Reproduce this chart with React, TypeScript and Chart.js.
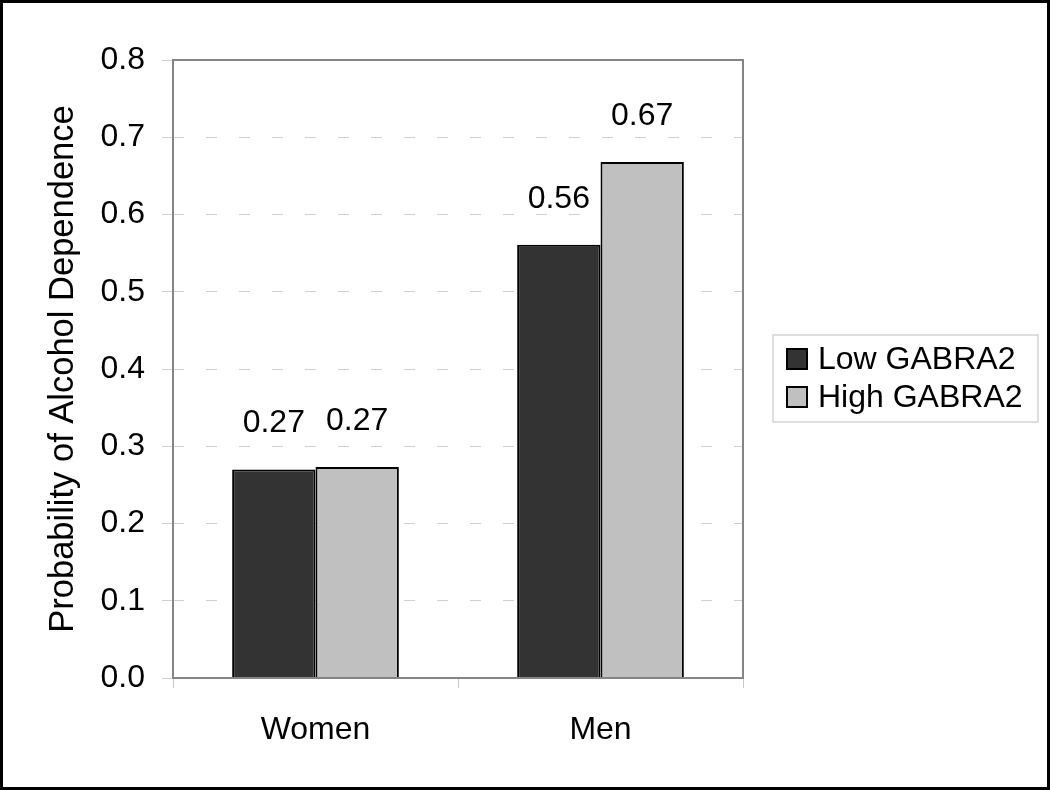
import React, { useEffect, useRef } from "react";
import { Chart, registerables } from "chart.js";

Chart.register(...registerables);

const categories = ["Women", "Men"];
const lowGabra2 = [0.27, 0.561];
const highGabra2 = [0.273, 0.668];
const lowLabels = ["0.27", "0.56"];
const highLabels = ["0.27", "0.67"];
const seriesNames = ["Low GABRA2", "High GABRA2"];
const yTicks = [0, 0.1, 0.2, 0.3, 0.4, 0.5, 0.6, 0.7, 0.8];
const yTitle = "Probability of Alcohol Dependence";

const FONT = "'Liberation Sans', Arial, sans-serif";

const framePlugin = {
  id: "frame",
  beforeDraw(chart: any) {
    const { ctx, width, height } = chart;
    ctx.save();
    ctx.fillStyle = "#ffffff";
    ctx.fillRect(0, 0, width, height);
    ctx.restore();
  },
  afterDatasetsDraw(chart: any) {
    const { ctx, chartArea } = chart;
    ctx.save();
    ctx.strokeStyle = "#858585";
    ctx.lineWidth = 2;
    ctx.strokeRect(chartArea.left, chartArea.top, chartArea.right - chartArea.left, chartArea.bottom - chartArea.top);
    ctx.fillStyle = "#000000";
    ctx.font = `32px ${FONT}`;
    ctx.textAlign = "center";
    ctx.textBaseline = "alphabetic";
    const labelSets = [lowLabels, highLabels];
    chart.data.datasets.forEach((ds: any, di: number) => {
      const meta = chart.getDatasetMeta(di);
      meta.data.forEach((bar: any, i: number) => {
        ctx.fillText(labelSets[di][i], bar.x, bar.y - 37);
      });
    });
    ctx.restore();
  },
  afterDraw(chart: any) {
    const { ctx, width, height } = chart;
    ctx.save();
    const bx = 773, by = 335, bw = 265, bh = 87;
    ctx.strokeStyle = "#d4d4d4";
    ctx.lineWidth = 1.5;
    ctx.strokeRect(bx, by, bw, bh);
    ctx.font = `32px ${FONT}`;
    ctx.textBaseline = "middle";
    ctx.textAlign = "left";
    const rows = [359, 397];
    chart.data.datasets.forEach((ds: any, i: number) => {
      const cy = rows[i];
      ctx.fillStyle = ds.backgroundColor;
      ctx.fillRect(787, cy - 10, 20, 20);
      ctx.strokeStyle = "#000000";
      ctx.lineWidth = 2;
      ctx.strokeRect(787, cy - 10, 20, 20);
      ctx.fillStyle = "#000000";
      ctx.fillText(ds.label, 818, cy + 1);
    });
    ctx.strokeStyle = "#000000";
    ctx.lineWidth = 3;
    ctx.strokeRect(1.5, 1.5, width - 3, height - 3);
    ctx.restore();
  },
};

export default function App() {
  const ref = useRef<HTMLCanvasElement>(null);
  useEffect(() => {
    document.body.style.margin = "0";
    const chart = new Chart(ref.current!, {
      type: "bar",
      data: {
        labels: categories,
        datasets: [
          {
            label: seriesNames[0],
            data: lowGabra2,
            backgroundColor: "#333333",
            borderColor: "#000000",
            borderWidth: 2,
            categoryPercentage: 0.585,
            barPercentage: 1,
          },
          {
            label: seriesNames[1],
            data: highGabra2,
            backgroundColor: "#c0c0c0",
            borderColor: "#000000",
            borderWidth: 2,
            categoryPercentage: 0.585,
            barPercentage: 1,
          },
        ],
      },
      options: {
        responsive: false,
        animation: false,
        layout: { padding: { top: 60, right: 307, bottom: 0, left: 0 } },
        plugins: {
          legend: { display: false },
          tooltip: { enabled: false },
        },
        scales: {
          x: {
            grid: {
              offset: true,
              drawOnChartArea: false,
              color: "#c8c8c8",
              tickLength: 10,
            },
            border: { display: false },
            ticks: {
              color: "#000000",
              font: { family: FONT, size: 32 },
              padding: 23,
            },
            afterFit(scale: any) {
              scale.height = 112;
            },
          },
          y: {
            min: 0,
            max: 0.8,
            afterBuildTicks(scale: any) {
              scale.ticks = yTicks.map((v) => ({ value: v }));
            },
            grid: {
              color: "#d0d0d0",
              tickLength: 11,
              tickColor: "#d0d0d0",
            },
            border: { display: false, dash: [11, 22] },
            ticks: {
              color: "#000000",
              font: { family: FONT, size: 32 },
              padding: 17,
              callback: (v: any) => Number(v).toFixed(1),
            },
            title: {
              display: true,
              text: yTitle,
              color: "#000000",
              font: { family: FONT, size: 34.5 },
              padding: { top: 43, bottom: 0 },
            },
            afterFit(scale: any) {
              scale.width = 173;
            },
          },
        },
      },
      plugins: [framePlugin],
    } as any);
    return () => chart.destroy();
  }, []);
  return <canvas ref={ref} width={1050} height={790} style={{ display: "block" }} />;
}
